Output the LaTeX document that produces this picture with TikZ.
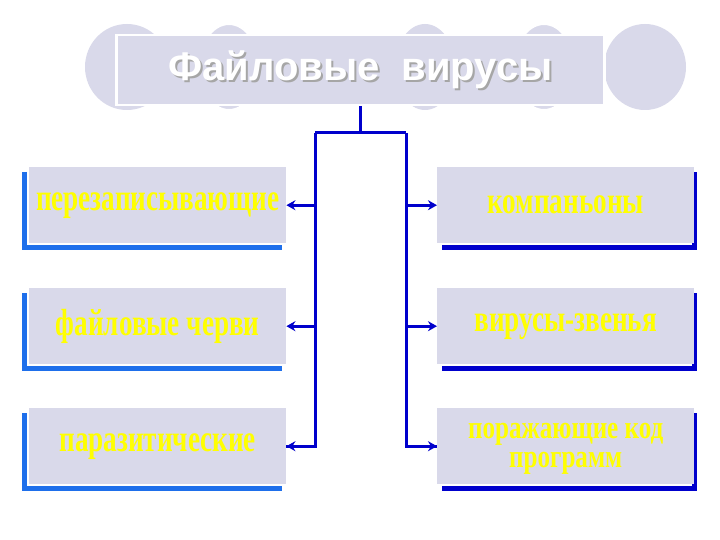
\documentclass[tikz,border=0pt]{standalone}
\usepackage{fontspec}
\setmainfont{Liberation Serif}
\newfontfamily\titlefont{Liberation Sans}
\usetikzlibrary{arrows.meta}
\definecolor{lav}{HTML}{D9D9EA}
\definecolor{lblue}{HTML}{1E6FEB}
\definecolor{dblue}{HTML}{0000CC}
\definecolor{ylw}{HTML}{FFFF00}
\newcommand{\stretchtxt}[1]{\raisebox{-6pt}{\scalebox{0.97}[1.35]{#1}}}
\tikzset{
  bg/.style={fill=lav, draw=none},
  item/.style={fill=lav, minimum width=257pt, minimum height=76pt, text=ylw, font=\bfseries\fontsize{28}{30}\selectfont, align=center, inner sep=1pt},
  conn/.style={draw=dblue, line width=3pt},
  arr/.style={conn, -{Stealth[length=9pt,width=10pt]}}
}
\begin{document}
\begin{tikzpicture}[x=1pt,y=-1pt]
\useasboundingbox (0,0) rectangle (720,540);
\fill[white] (0,0) rectangle (720,540);
% background ellipses
\fill[lav] (127,67) ellipse [x radius=42, y radius=43];
\foreach \cx in {229,425,544}{
  \fill[lav] (\cx,67) ellipse [x radius=30, y radius=43];
}
\foreach \cx in {229,544}{
  \draw[white, line width=2pt] (\cx,67) ellipse [x radius=30, y radius=43];
}
\fill[lav] (645,67) ellipse [x radius=41, y radius=43];
% title
\node[bg, draw=white, line width=2.5pt, minimum width=488pt, minimum height=70pt, anchor=north west] (title) at (115,34) {};
\node[text=gray!70, font=\titlefont\bfseries\fontsize{40}{42}\selectfont] at ([xshift=2pt,yshift=-2pt]title.center) {Файловые\ \ вирусы};
\node[text=white, font=\titlefont\bfseries\fontsize{40}{42}\selectfont] at (title.center) {Файловые\ \ вирусы};
% left boxes
\foreach \n/\y/\t in {l1/167/перезаписывающие, l2/288/файловые черви, l3/408/паразитические}{
  \draw[lblue, line width=5pt] (24,\y+5) -- (24,\y+80) -- (282,\y+80);
  \node[item, anchor=north west] (\n) at (29,\y) {\stretchtxt{\t}};
}
% right boxes
\foreach \n/\y/\t in {r1/167/компаньоны, r2/288/вирусы-звенья}{
  \draw[dblue, line width=5pt] (442,\y+80) -- (694,\y+80) -- (694,\y+5);
  \node[item, anchor=north west] (\n) at (437,\y) {\stretchtxt{\t}};
}
\draw[dblue, line width=5pt] (442,488) -- (694,488) -- (694,413);
\node[item, anchor=north west, font=\bfseries\fontsize{27}{29}\selectfont] (r3) at (437,408) {\raisebox{-2pt}{\scalebox{0.93}[1.2]{\begin{tabular}{@{}c@{}}поражающие код\\[-5pt]программ\end{tabular}}}};
% connectors
\coordinate (top) at (360,133);
\coordinate (tl) at (315,133);
\coordinate (tr) at (406,133);
\draw[conn] (title.south -| top) -- (top);
\draw[conn] (tl) -- (tr);
\draw[conn] (tl) |- (l3.east);
\draw[conn] (tr) |- (r3.west);
\draw[arr] (tl |- l1.east) -- (l1.east);
\draw[arr] (tl |- l2.east) -- (l2.east);
\draw[arr] (tl |- l3.east) -- (l3.east);
\draw[arr] (tr |- r1.west) -- (r1.west);
\draw[arr] (tr |- r2.west) -- (r2.west);
\draw[arr] (tr |- r3.west) -- (r3.west);
\end{tikzpicture}
\end{document}
